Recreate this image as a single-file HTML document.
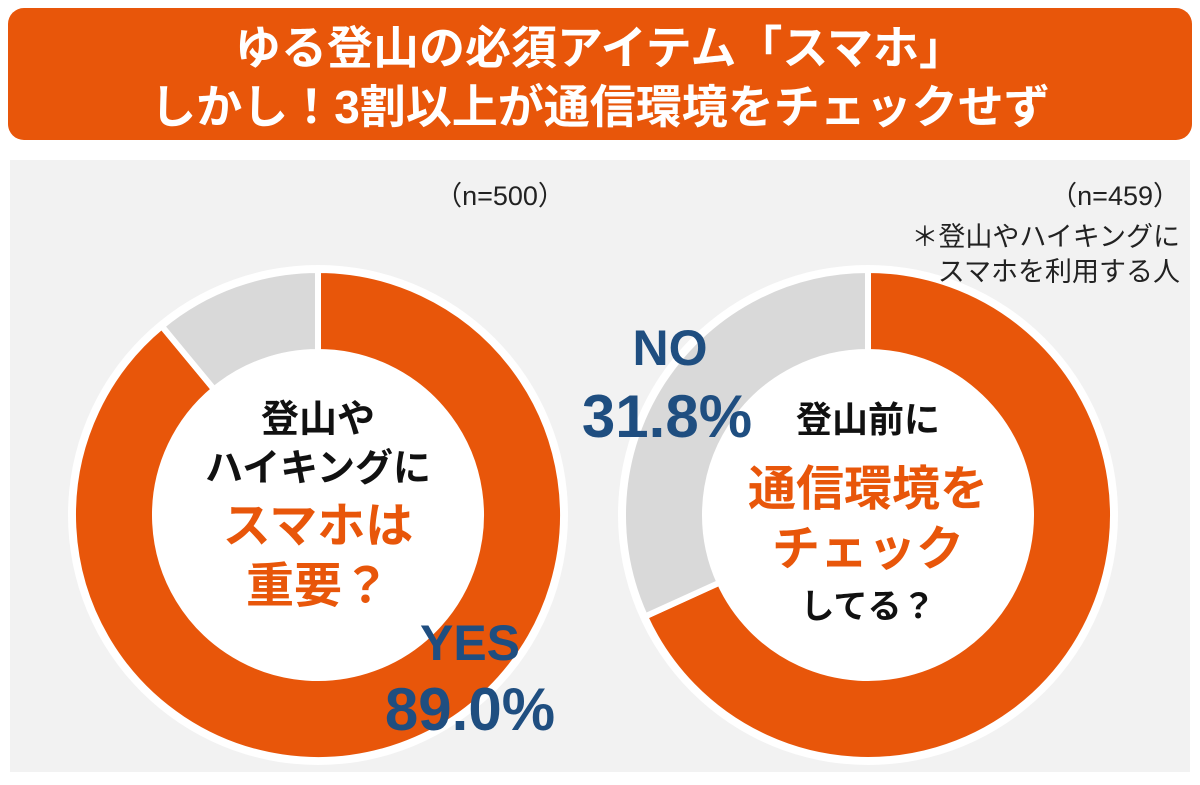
<!DOCTYPE html>
<html><head><meta charset="utf-8"><style>
body{margin:0;width:1200px;height:780px;background:#fff;overflow:hidden;font-family:"Liberation Sans","Noto Sans CJK JP",sans-serif;}
svg text{font-family:"Liberation Sans","Noto Sans CJK JP",sans-serif;font-weight:bold}
</style></head><body>
<svg width="1200" height="780">
<rect x="8" y="8" width="1184" height="132" rx="16" fill="#e8560a"/>
<text x="600" y="64" text-anchor="middle" font-size="46" fill="#fff">ゆる登山の必須アイテム「スマホ」</text>
<text x="600" y="123" text-anchor="middle" font-size="46" fill="#fff">しかし！3割以上が通信環境をチェックせず</text>
<rect x="10" y="160" width="1180" height="612" fill="#f2f2f2"/>
<g id="d1"></g>
<g id="d2"></g>
<text x="500" y="205" text-anchor="middle" font-size="27" fill="#222" style="font-weight:normal">（n=500）</text>
<text x="1180" y="205" text-anchor="end" font-size="27" fill="#222" style="font-weight:normal">（n=459）</text>
<text x="1180" y="246" text-anchor="end" font-size="27" fill="#222" style="font-weight:normal">＊登山やハイキングに</text>
<text x="1180" y="281" text-anchor="end" font-size="27" fill="#222" style="font-weight:normal">スマホを利用する人</text>
<g text-anchor="middle">
<text x="318" y="432" font-size="38" fill="#111">登山や</text>
<text x="318" y="481" font-size="38" fill="#111">ハイキングに</text>
<text x="318" y="542" font-size="48" fill="#e8560a">スマホは</text>
<text x="318" y="602" font-size="48" fill="#e8560a">重要？</text>
</g>
<text x="470" y="660" text-anchor="middle" font-size="50" fill="#1f4e80">YES</text>
<text x="470" y="730" text-anchor="middle" font-size="60" fill="#1f4e80">89.0%</text>
<text x="670" y="365" text-anchor="middle" font-size="50" fill="#1f4e80">NO</text>
<text x="667" y="437" text-anchor="middle" font-size="60" fill="#1f4e80">31.8%</text>
<g text-anchor="middle">
<text x="868" y="432" font-size="36" fill="#111">登山前に</text>
<text x="868" y="505" font-size="48" fill="#e8560a">通信環境を</text>
<text x="868" y="565" font-size="48" fill="#e8560a">チェック</text>
<text x="868" y="618" font-size="34" fill="#111">してる？</text>
</g>
</svg>
<script>
const donut1Labels=["YES","NO"];
const donut1Values=[89.0,11.0];
const donut2Labels=["YES","NO"];
const donut2Values=[68.2,31.8];
const colors=["#e8560a","#d9d9d9"];
function draw(gid,cx,cy,values,labels){
  const g=document.getElementById(gid);const R=245,r=163;const ns="http://www.w3.org/2000/svg";
  const tot=values.reduce((a,b)=>a+b,0);let a0=0;
  const pt=(a,rad)=>[cx+rad*Math.sin(a*2*Math.PI),cy-rad*Math.cos(a*2*Math.PI)];
  const bg=document.createElementNS(ns,"circle");
  
  
  bg.setAttribute("cx",cx);bg.setAttribute("cy",cy);bg.setAttribute("r",R+5);bg.setAttribute("fill","#fff");g.appendChild(bg);
  values.forEach((v,i)=>{const a1=a0+v/tot;const big=(a1-a0)>0.5?1:0;
    const [x0,y0]=pt(a0,R),[x1,y1]=pt(a1,R),[x2,y2]=pt(a1,r),[x3,y3]=pt(a0,r);
    const p=document.createElementNS(ns,"path");
    
    
    p.setAttribute("d",`M${x0},${y0}A${R},${R} 0 ${big} 1 ${x1},${y1}L${x2},${y2}A${r},${r} 0 ${big} 0 ${x3},${y3}Z`);
    p.setAttribute("fill",colors[i]);p.setAttribute("stroke","#fff");p.setAttribute("stroke-width","6");
    g.appendChild(p);a0=a1;});
  const c=document.createElementNS(ns,"circle");
  
  
  c.setAttribute("cx",cx);c.setAttribute("cy",cy);c.setAttribute("r",r);c.setAttribute("fill","#fff");g.appendChild(c);
}
draw("d1",318,515,donut1Values,donut1Labels);
draw("d2",868,515,donut2Values,donut2Labels);
</script>
</body></html>
